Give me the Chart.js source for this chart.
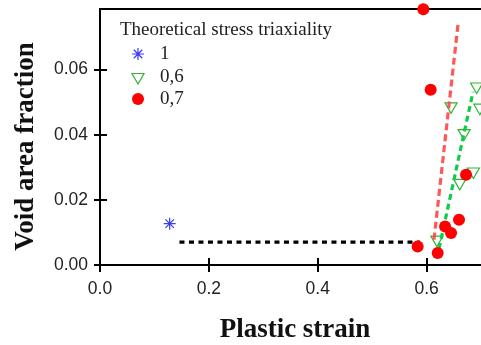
<!DOCTYPE html>
<html>
<head>
<meta charset="utf-8">
<script src="https://cdn.jsdelivr.net/npm/chart.js@4/dist/chart.umd.min.js"></script>
<style>
  html, body { margin: 0; padding: 0; background: #ffffff; }
  #wrap { width: 481px; height: 345px; position: relative; overflow: hidden; }
</style>
</head>
<body>
<div id="wrap"><canvas id="c" width="481" height="345"></canvas></div>
<script>
// ---- data ----
const xTickValues = [0.0, 0.2, 0.4, 0.6];
const yTickValues = [0.00, 0.02, 0.04, 0.06];

const legendTitle = "Theoretical stress triaxiality";
const seriesLabels = ["1", "0,6", "0,7"];

// stress triaxiality 1 (blue asterisk)
const blueX = [0.128];
const blueY = [0.0127];

// stress triaxiality 0,6 (green open down-triangles)
const greenX = [0.692, 0.698, 0.645, 0.669, 0.686, 0.661, 0.619];
const greenY = [0.0548, 0.0483, 0.0487, 0.0405, 0.0287, 0.0252, 0.0078];

// stress triaxiality 0,7 (red filled circles)
const redX = [0.594, 0.6075, 0.6725, 0.634, 0.645, 0.6596, 0.5836, 0.6204];
const redY = [0.0785, 0.0538, 0.0277, 0.0118, 0.0098, 0.0139, 0.0057, 0.0037];

// dashed trend lines
const blackLineX = [0.146, 0.588];
const blackLineY = [0.0070, 0.0070];
const redLineX = [0.6136, 0.6583];
const redLineY = [0.0078, 0.0747];
const greenLineX = [0.6228, 0.6854];
const greenLineY = [0.0050, 0.0532];

const xTitle = "Plastic strain";
const yTitle = "Void area fraction";

// ---- helpers ----
const pts = (xs, ys) => xs.map((x, i) => ({ x: x, y: ys[i] }));

const BLUE = '#3b3bf2';
const GREEN = '#33b433';
const RED = '#ff0000';

const framePlugin = {
  id: 'frame',
  beforeDatasetsDraw(chart) {
    const { ctx, chartArea: a, scales } = chart;
    ctx.save();
    ctx.strokeStyle = '#000';
    ctx.lineWidth = 2;
    // top border
    ctx.beginPath();
    ctx.moveTo(a.left - 1, a.top);
    ctx.lineTo(a.right, a.top);
    ctx.stroke();
    // inner part of tick marks
    ctx.beginPath();
    xTickValues.forEach(v => {
      const px = Math.round(scales.x.getPixelForValue(v));
      ctx.moveTo(px, a.bottom);
      ctx.lineTo(px, a.bottom - 7);
    });
    yTickValues.forEach(v => {
      const py = Math.round(scales.y.getPixelForValue(v));
      ctx.moveTo(a.left, py);
      ctx.lineTo(a.left + 7, py);
    });
    ctx.stroke();
    ctx.restore();
  },
  afterDraw(chart) {
    const { ctx } = chart;
    ctx.save();
    // axis titles
    ctx.fillStyle = '#111';
    ctx.font = 'bold 27px "Liberation Serif", "DejaVu Serif", serif';
    ctx.textAlign = 'center';
    ctx.textBaseline = 'alphabetic';
    ctx.fillText(xTitle, 295, 337);
    ctx.translate(33, 146.5);
    ctx.rotate(-Math.PI / 2);
    ctx.fillText(yTitle, 0, 0);
    ctx.restore();

    // legend
    ctx.save();
    ctx.fillStyle = '#222';
    ctx.font = '19px "Liberation Serif", "DejaVu Serif", serif';
    ctx.textAlign = 'left';
    ctx.textBaseline = 'alphabetic';
    ctx.fillText(legendTitle, 120, 35);
    const mx = 138;
    const rows = [54, 77, 99];
    const baselines = [59, 82, 104];
    seriesLabels.forEach((lab, i) => ctx.fillText(lab, 160, baselines[i]));
    // asterisk
    ctx.strokeStyle = BLUE; ctx.lineWidth = 1.2;
    ctx.beginPath();
    const r = 6, d = r * Math.SQRT1_2;
    ctx.moveTo(mx - r, rows[0]); ctx.lineTo(mx + r, rows[0]);
    ctx.moveTo(mx, rows[0] - r); ctx.lineTo(mx, rows[0] + r);
    ctx.moveTo(mx - d, rows[0] - d); ctx.lineTo(mx + d, rows[0] + d);
    ctx.moveTo(mx - d, rows[0] + d); ctx.lineTo(mx + d, rows[0] - d);
    ctx.stroke();
    // down triangle
    ctx.strokeStyle = GREEN; ctx.lineWidth = 1.2;
    const tr = 7;
    ctx.beginPath();
    ctx.moveTo(mx, rows[1] + tr);
    ctx.lineTo(mx - tr * Math.sqrt(3) / 2, rows[1] - tr / 2);
    ctx.lineTo(mx + tr * Math.sqrt(3) / 2, rows[1] - tr / 2);
    ctx.closePath();
    ctx.stroke();
    // circle
    ctx.fillStyle = RED;
    ctx.beginPath();
    ctx.arc(mx, rows[2], 6, 0, Math.PI * 2);
    ctx.fill();
    ctx.restore();
  }
};

const tickFont = { family: '"Liberation Sans", Arial, sans-serif', size: 17.5 };
const noPad = s => { s.paddingTop = 0; s.paddingBottom = 0; s.paddingLeft = 0; s.paddingRight = 0; };

new Chart(document.getElementById('c'), {
  type: 'scatter',
  data: {
    datasets: [
      { label: seriesLabels[2], data: pts(redX, redY), pointStyle: 'circle', pointRadius: 6,
        backgroundColor: RED, borderColor: RED, borderWidth: 0, clip: false, order: 0 },
      { label: 'red trend', type: 'line', data: pts(redLineX, redLineY), showLine: true,
        borderColor: 'rgba(255,70,70,0.9)', borderWidth: 3.2, borderDash: [7, 4], pointRadius: 0,
        fill: false, order: 1 },
      { label: 'green trend', type: 'line', data: pts(greenLineX, greenLineY), showLine: true,
        borderColor: '#13c94c', borderWidth: 3.2, borderDash: [6, 4], pointRadius: 0,
        fill: false, order: 2 },
      { label: seriesLabels[1], data: pts(greenX, greenY), pointStyle: 'triangle', rotation: 180,
        pointRadius: 7, backgroundColor: 'rgba(255,255,255,0)', borderColor: GREEN, borderWidth: 1.2,
        clip: false, order: 3 },
      { label: 'black trend', type: 'line', data: pts(blackLineX, blackLineY), showLine: true,
        borderColor: '#000', borderWidth: 3.2, borderDash: [5, 4.5], pointRadius: 0,
        fill: false, order: 4 },
      { label: seriesLabels[0], data: pts(blueX, blueY), pointStyle: 'star', pointRadius: 6,
        borderColor: BLUE, backgroundColor: BLUE, borderWidth: 1.2, clip: false, order: 5 }
    ]
  },
  options: {
    responsive: false,
    animation: false,
    devicePixelRatio: 1,
    layout: { autoPadding: false, padding: { top: 9, left: 0, right: 0, bottom: 0 } },
    plugins: { legend: { display: false }, tooltip: { enabled: false } },
    scales: {
      x: {
        type: 'linear', min: 0, max: 0.7,
        afterBuildTicks: s => { s.ticks = xTickValues.map(v => ({ value: v })); },
        afterFit: s => { s.height = 80; noPad(s); },
        ticks: { font: tickFont, color: '#222', padding: 7, autoSkip: false, maxRotation: 0,
                 callback: v => Number(v).toFixed(1) },
        grid: { drawOnChartArea: false, drawTicks: true, tickLength: 7, color: '#000', lineWidth: 2 },
        border: { display: true, color: '#000', width: 2 }
      },
      y: {
        type: 'linear', min: 0, max: 0.0786,
        afterBuildTicks: s => { s.ticks = yTickValues.map(v => ({ value: v })); },
        afterFit: s => { s.width = 100; noPad(s); },
        ticks: { font: tickFont, color: '#222', padding: 6, autoSkip: false,
                 callback: v => Number(v).toFixed(2) },
        grid: { drawOnChartArea: false, drawTicks: true, tickLength: 6, color: '#000', lineWidth: 2 },
        border: { display: true, color: '#000', width: 2 }
      }
    }
  },
  plugins: [framePlugin]
});
</script>
</body>
</html>
